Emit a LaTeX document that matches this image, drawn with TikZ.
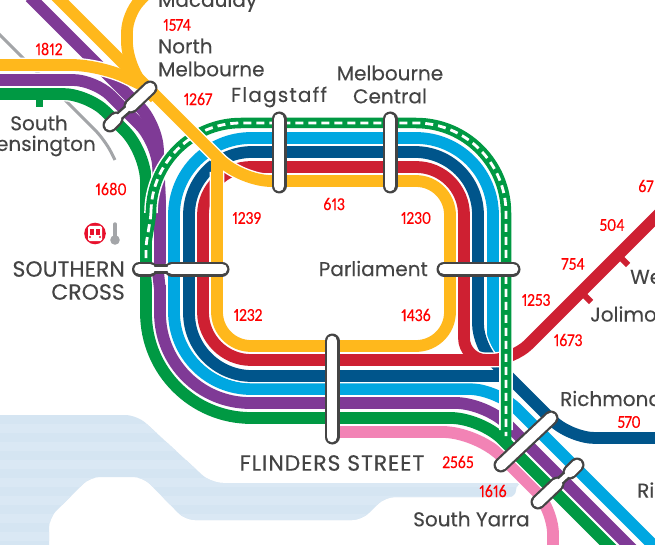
\documentclass[tikz,border=0pt]{standalone}
\usepackage{fontspec}
\setmainfont[FakeBold=0.2]{Poppins}
\newfontfamily\capsfont[FakeBold=0.2,LetterSpace=4]{Poppins}
\newfontfamily\flagfont[FakeBold=0.2,LetterSpace=6]{Poppins}
\newfontfamily\numfont[FakeStretch=0.88,FakeBold=0.2,Numbers=Proportional]{Carlito}
\definecolor{cyel}{HTML}{FFB81C}
\definecolor{cred}{HTML}{CE2032}
\definecolor{cdkb}{HTML}{00558B}
\definecolor{cltb}{HTML}{00A7E1}
\definecolor{cpur}{HTML}{7F3A96}
\definecolor{cgrn}{HTML}{009943}
\definecolor{cpnk}{HTML}{F283B5}
\definecolor{cwat}{HTML}{D5E5F2}
\definecolor{cwat2}{HTML}{DAE8F4}
\definecolor{ctxt}{HTML}{444444}
\definecolor{cgry}{HTML}{A3A5A8}
\definecolor{cbus}{HTML}{E8112D}
\tikzset{
  casing/.style={draw=white,line width=14.6pt,line cap=butt,line join=round},
  rail/.style={line width=11.8pt,line cap=butt,line join=round},
  stn/.style={font=\fontsize{20}{23}\selectfont,text=ctxt,inner sep=0pt},
  stncaps/.style={font=\capsfont\fontsize{22}{23}\selectfont,text=ctxt,inner sep=0pt},
  num/.style={font=\numfont\fontsize{18}{18}\selectfont,text=red,inner sep=0pt},
  tick/.style={draw=cred,line width=6pt},
}
\newcommand\railp[2]{\draw[casing] #2; \draw[rail,draw=#1] #2;}
\newcommand\caph[1]{\draw[draw=ctxt,line width=15pt,line cap=round] #1; }
\newcommand\capw[1]{\draw[draw=white,line width=10.6pt,line cap=round] #1; }
\newcommand\pind[1]{\draw[draw=ctxt,line width=9.5pt] #1; }
\newcommand\pinw[1]{\draw[draw=white,line width=4.5pt] #1; }
\begin{document}
\begin{tikzpicture}[x=1pt,y=-1pt]
\useasboundingbox (0,0) rectangle (655,545);
\clip (0,0) rectangle (655,545);
\fill[white] (0,0) rectangle (655,545);
% water
\begin{scope}
\clip[rounded corners=12pt] (-20,415) -- (137,415) -- (211,483) -- (520,483) [rounded corners=7pt] -- (516,483) -- (516,497) [rounded corners=10pt] -- (385,497) -- (362,520) -- (185,520) -- (143,477) -- (90,477) -- (49,518) [sharp corners] -- (49,560) -- (-20,560) -- cycle;
\fill[cwat] (0,400) rectangle (560,560);
\foreach \yy in {424,442,460,478,496,514,532}{\fill[cwat2] (0,\yy) rectangle (560,\yy+9);}
\end{scope}
% grey
\draw[cgry,line width=3pt,rounded corners=14pt] (-5,30) -- (105,140) -- (115,160);
% pink
\railp{cpnk}{[rounded corners=34pt] (340,432) -- (477,432) [rounded corners=26pt] -- (553,508) -- (553,560)}
% green
\railp{cgrn}{[rounded corners=25pt] (-5,94) -- (88,94) [rounded corners=30pt] -- (146,152) [rounded corners=105pt] -- (146,418) [rounded corners=30pt] -- (481,418) -- (630,567)}
% purple
\draw[casing] (30,-3) [rounded corners=25pt] -- (157,124) -- (160,205);
\draw[casing] [rounded corners=22pt] (-5,80) -- (95,80) [rounded corners=25pt] -- (157,142) -- (160,205);
\draw[casing] (160,200) -- (160,262) -- (158,272) -- (160,290);
\draw[casing] [rounded corners=90pt] (160,285) -- (160,403) [rounded corners=30pt] -- (486,403) -- (650,567);
\draw[rail,draw=cpur] (30,-3) [rounded corners=25pt] -- (157,124) -- (160,205);
\draw[rail,draw=cpur] [rounded corners=22pt] (-5,80) -- (95,80) [rounded corners=25pt] -- (157,142) -- (160,205);
\draw[rail,draw=cpur] (160,200) -- (160,262) -- (158,272) -- (160,290);
\draw[rail,draw=cpur] [rounded corners=90pt] (160,285) -- (160,403) [rounded corners=30pt] -- (486,403) -- (650,567);
% light blue
\railp{cltb}{[rounded corners=77pt] (493,366) -- (493,138) -- (174,138) -- (174,389) [rounded corners=28pt] -- (497,389) -- (675,567)}
% dark blue
\draw[casing] [rounded corners=25pt] (665,438) -- (570,438) [rounded corners=22pt] -- (478,346) [rounded corners=63pt] -- (478,152) -- (189,152) -- (189,376) -- (500,376);
\draw[rail,draw=cdkb] [rounded corners=25pt] (665,438) -- (570,438) [rounded corners=22pt] -- (478,346) [rounded corners=63pt] -- (478,152) -- (189,152) -- (189,376) -- (505,376);
% red
\draw[casing] [rounded corners=22pt] (670,203) -- (553,320) -- (513,360) -- (290,360);
\draw[casing] [rounded corners=48pt] (300,360) -- (203,360) -- (203,167) -- (464,167) [rounded corners=22pt] -- (464,360) -- (500,360);
\draw[rail,draw=cred] [rounded corners=22pt] (670,203) -- (553,320) -- (513,360) -- (290,360);
\draw[rail,draw=cred] [rounded corners=48pt] (300,360) -- (203,360) -- (203,167) -- (464,167) [rounded corners=22pt] -- (464,360) -- (500,360);
\coordinate (t1a) at (581,292); \coordinate (t1b) at (591,302);
\coordinate (t2a) at (618,255); \coordinate (t2b) at (628,265);
\draw[tick] (t1a) -- (t1b);
\draw[tick] (t2a) -- (t2b);
% green dashed
\draw[casing,line width=13.6pt] [rounded corners=90pt] (151,213) -- (151,123) -- (506,123) -- (506,430);
\draw[rail,draw=cgrn,line width=10.5pt] [rounded corners=5pt] (146,268) -- (146,245) -- (151,215) [rounded corners=90pt] -- (151,123) -- (506,123) -- (506,446);
\draw[white,line width=2.8pt,dash pattern=on 8pt off 5pt] [rounded corners=5pt] (146,258) -- (146,245) -- (151,215) [rounded corners=90pt] -- (151,123) -- (506,123) -- (506,436);
% yellow
\draw[casing] [rounded corners=30pt] (50,-10) -- (241,181) -- (300,181);
\draw[casing] [rounded corners=34pt] (300,181) -- (450,181) -- (450,346) -- (217,346) -- (217,172);
\draw[casing] [rounded corners=28pt] (-5,65) -- (100,65) -- (140,84);
\draw[casing] [rounded corners=18pt] (150,-10) -- (127,14) [rounded corners=28pt] -- (127,70) -- (155,98);
\draw[rail,draw=cyel] [rounded corners=30pt] (50,-10) -- (241,181) -- (300,181);
\draw[rail,draw=cyel] [rounded corners=34pt] (300,181) -- (450,181) -- (450,346) -- (217,346) -- (217,160);
\draw[rail,draw=cyel] [rounded corners=28pt] (-5,65) -- (100,65) -- (140,84);
\draw[rail,draw=cyel] [rounded corners=18pt] (150,-10) -- (127,14) [rounded corners=28pt] -- (127,70) -- (155,98);
% south kensington tick
\coordinate (ska) at (39,94); \coordinate (skb) at (39,107);
\draw[cgrn,line width=7pt] (ska) -- (skb);
% interchange capsules
\caph{(279,119) -- (279,186)} \capw{(279,119) -- (279,186)}
\caph{(390,119) -- (390,186)} \capw{(390,119) -- (390,186)}
\caph{(444,269) -- (513,269)} \capw{(444,269) -- (513,269)}
\caph{(332,341) -- (332,437)} \capw{(332,341) -- (332,437)}
\caph{(551,418) -- (501,465)} \capw{(551,418) -- (501,465)}
% with pinches
\pind{(150,269) -- (172,269)} \caph{(139.5,269) -- (150,269)} \caph{(172,269) -- (222,269)}
\capw{(139.5,269) -- (150,269)} \capw{(172,269) -- (222,269)} \pinw{(150,269) -- (172,269)}
\pind{(131,106) -- (114,121)} \caph{(150,88) -- (131,106)} \caph{(116,119) -- (110,125)}
\capw{(150,88) -- (131,106)} \capw{(116,119) -- (110,125)} \pinw{(131,106) -- (114,121)}
\pind{(557,484) -- (570,472)} \caph{(557,484) -- (538,502)} \caph{(570,472) -- (577,465)}
\capw{(557,484) -- (538,502)} \capw{(570,472) -- (577,465)} \pinw{(557,484) -- (570,472)}
% bus icon
\fill[cbus] (95,233.5) circle (10.8);
\fill[white,rounded corners=1.5pt] (88,226) rectangle (102,241);
\fill[cbus] (89.7,229) rectangle (94.4,234.5);
\fill[cbus] (95.6,229) rectangle (100.3,234.5);
\fill[cbus] (90,237) circle (1.1) (100,237) circle (1.1);
\fill[cgry] (115,240) circle (4.8);
\draw[cgry,line width=3.4pt,line cap=round] (115,224) -- (115,240);
% station labels
\node[stn,anchor=west] (mac) at (158,2) {Macaulay};
\node[stn,anchor=west,align=left] (nm) at (158,57.5) {North\\Melbourne};
\node[stn,font=\flagfont\fontsize{20}{23}\selectfont] (fl) at (279,97) {Flagstaff};
\node[stn,align=center] (mc) at (390,84.5) {Melbourne\\Central};
\node[stn,anchor=east] (pa) at (428,268.5) {Parliament};
\node[stncaps,anchor=east,align=right,font=\fontsize{22}{23}\selectfont] (sc) at (125,280.5) {SOUTHERN\\CROSS};
\node[stn] (sk1) at (39,123) {South};
\node[stn,anchor=east] (sk2) at (96,146) {ensington};
\node[stncaps] (fs) at (332,463) {FLINDERS STREET};
\node[stn,anchor=west] (sy) at (413,519) {South Yarra};
\node[stn,anchor=west] (ri) at (560,398.5) {Richmond};
\node[stn,anchor=west] (er) at (637,490) {Ri};
\node[stn,anchor=west] (jo) at (590,314) {Jolimo};
\node[stn,anchor=west] (we) at (630,277) {We};
% numbers
\node[num] (n1) at (177,25) {1574};
\node[num] (n2) at (49,49) {1812};
\node[num] (n3) at (198,99) {1267};
\node[num] (n4) at (111,189) {1680};
\node[num] (n5) at (247,218) {1239};
\node[num] (n6) at (334,204) {613};
\node[num] (n7) at (416,218) {1230};
\node[num] (n8) at (248,315) {1232};
\node[num] (n9) at (416,315) {1436};
\node[num] (n10) at (536,300) {1253};
\node[num] (n11) at (568,340) {1673};
\node[num] (n12) at (573,264) {754};
\node[num] (n13) at (612,225) {504};
\node[num,anchor=west] (n14) at (638,186) {67};
\node[num] (n15) at (629,422) {570};
\node[num] (n16) at (458,462) {2565};
\node[num] (n17) at (493,491) {1616};
\end{tikzpicture}
\end{document}
